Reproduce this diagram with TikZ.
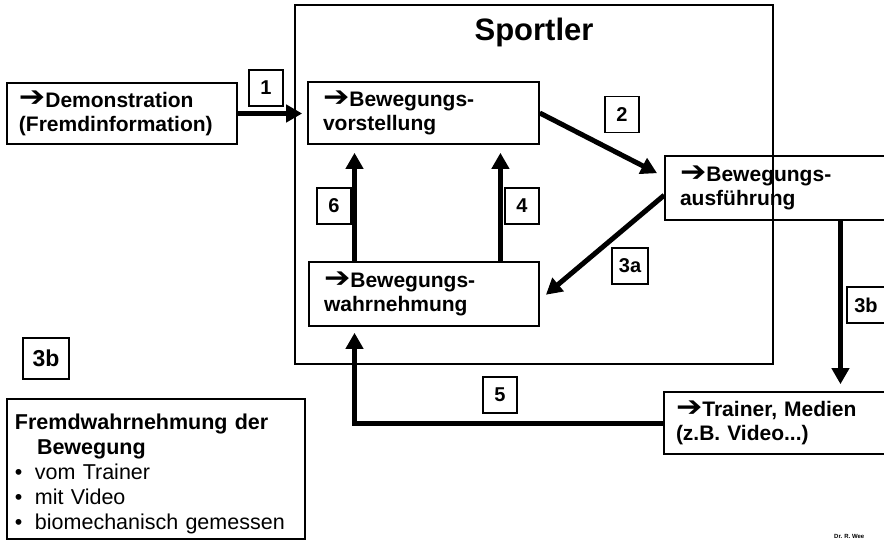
\documentclass[tikz,border=0pt]{standalone}
\usepackage{fontspec}
\setmainfont{Liberation Sans}
\newfontfamily\symfont{DejaVu Sans}
\usetikzlibrary{arrows.meta,calc}
\newcommand{\arr}{\raisebox{0.5pt}{\scalebox{1.5}[1.35]{\symfont ➔}}}
\begin{document}
\begin{tikzpicture}[x=1pt,y=-1pt,
  box/.style={draw,line width=1.6pt,rectangle,inner xsep=12pt,inner ysep=0pt,align=left,
              font=\fontsize{21}{24}\selectfont\bfseries},
  lab/.style={draw,line width=1.3pt,fill=white,minimum width=34pt,minimum height=36pt,inner sep=0pt,
              font=\fontsize{20}{22}\selectfont\bfseries},
  flow/.style={line width=5pt,-{Triangle[length=16pt,width=17pt]}},
]
\useasboundingbox (0,0) rectangle (884,540);
\clip (0,0) rectangle (884,540);

% Sportler frame
\node[draw,line width=1.3pt,minimum width=478pt,minimum height=359pt,inner sep=0pt] (sp) at (534,184.5) {};
\node[anchor=base,font=\fontsize{31}{34}\selectfont\bfseries,inner sep=0pt] (title) at (534,41) {Sportler};

% boxes
\node[box,minimum height=61pt,text width=206pt] (demo) at (122,113.5) {\arr Demonstration\\(Fremdinformation)};
\node[box,inner xsep=15pt,minimum height=62pt,text width=201pt] (vor) at (423.5,113) {\arr Bewegungs-\\vorstellung};
\node[box,inner xsep=15pt,minimum height=64pt,text width=200pt] (wahr) at (424,294) {\arr Bewegungs-\\wahrnehmung};
\node[box,inner xsep=15pt,minimum height=64pt,text width=205pt] (aus) at (782.5,188) {\arr Bewegungs-\\ausführung};
\node[box,minimum height=62pt,text width=212pt] (trainer) at (782,423) {\arr Trainer, Medien\\(z.B. Video...)};
\node[box,inner xsep=8pt,minimum height=140pt,text width=282pt,font=\fontsize{21.5}{25}\selectfont] (fremd) at (156,469)
  {\rule{0pt}{26pt}{\bfseries Fremdwahrnehmung der}\\\hspace*{22pt}{\bfseries Bewegung}\\
   \makebox[20pt][l]{•}vom Trainer\\
   \makebox[20pt][l]{•}mit Video\\
   \makebox[20pt][l]{•}biomechanisch gemessen};

% number labels
\node[lab] (l1) at (266,88) {1};
\node[lab] (l2) at (622,114.5) {2};
\node[lab] (l6) at (334,206) {6};
\node[lab] (l4) at (522,206) {4};
\node[lab,minimum width=36pt] (l3a) at (630,266) {3a};
\node[lab,minimum width=38pt] (l3b) at (866,305) {3b};
\node[lab,minimum width=46pt,minimum height=41pt,font=\fontsize{23}{25}\selectfont\bfseries] (l3bL) at (46,358.5) {3b};
\node[lab] (l5) at (500,395) {5};

% connectors
\draw[flow,shorten >=5pt] (demo.east) -- (vor.west |- demo.east);
\draw[flow,shorten >=8pt] (vor.east) -- ($(aus.north west)!0.33!(aus.south west)$);
\draw[flow,shorten >=8pt] ($(aus.north west)!0.61!(aus.south west)$) -- ($(wahr.north east)!0.59!(wahr.south east)$);
\coordinate (w6) at ($(wahr.north west)!0.2!(wahr.north east)$);
\draw[flow,shorten >=8pt] (w6) -- (w6 |- vor.south);
\coordinate (w4) at ($(wahr.north west)!0.83!(wahr.north east)$);
\draw[flow,shorten >=8pt] (w4) -- (w4 |- vor.south);
\coordinate (a3) at ($(aus.south west)!0.745!(aus.south east)$);
\draw[flow,shorten >=7pt] (a3) -- (a3 |- trainer.north);
\coordinate (w5) at ($(wahr.south west)!0.2!(wahr.south east)$);
\draw[flow,shorten >=6pt] (trainer.west) -| (w5);

% footer
\node[anchor=base west,font=\fontsize{6}{7}\selectfont\bfseries,inner sep=0pt] (dr) at (834,538.5) {Dr. R. Wee};
\end{tikzpicture}
\end{document}
